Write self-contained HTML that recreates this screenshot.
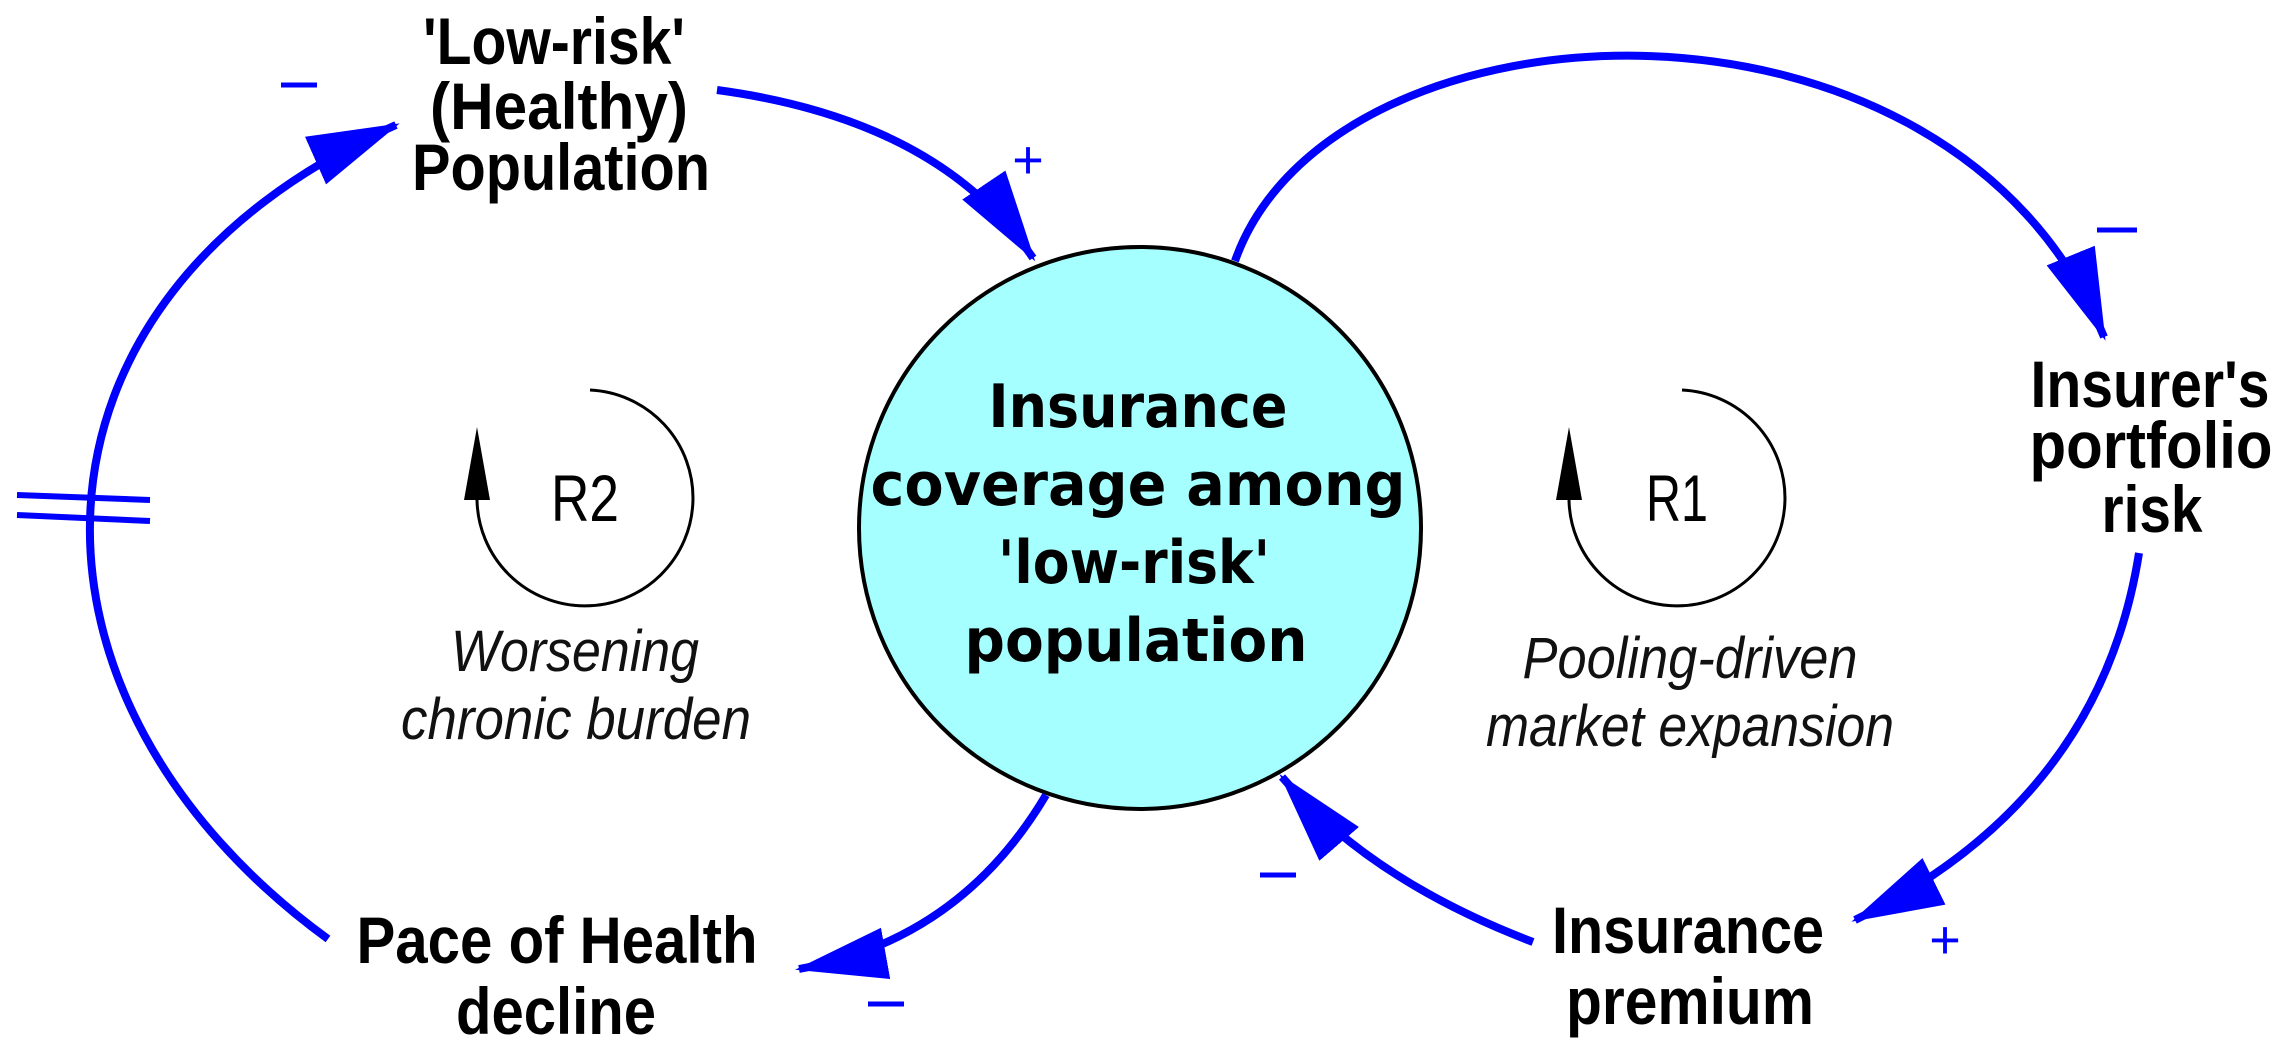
<!DOCTYPE html>
<html><head><meta charset="utf-8"><style>
html,body{margin:0;padding:0;background:#fff;}
svg{display:block;}
.lbl{font-family:"Liberation Sans Narrow","Liberation Sans",sans-serif;font-weight:bold;font-size:66px;fill:#000;text-anchor:middle;}
.ctr{font-family:"DejaVu Sans","Liberation Sans",sans-serif;font-weight:bold;font-size:60px;fill:#000;text-anchor:middle;}
.it{font-family:"Liberation Sans Narrow","Liberation Sans",sans-serif;font-style:italic;font-size:58px;fill:#111;text-anchor:middle;}
.b{fill:none;stroke:#0000ff;stroke-width:8;}
.pl{font-family:"Liberation Sans",sans-serif;font-size:54px;fill:#0000ff;text-anchor:middle;}
</style></head><body>
<svg width="2285" height="1063" viewBox="0 0 2285 1063" xmlns="http://www.w3.org/2000/svg">
<defs>
<marker id="ah" markerUnits="userSpaceOnUse" markerWidth="100" markerHeight="60" refX="88" refY="26" orient="auto">
<path d="M0,0 L92,26 L0,52 z" fill="#0000ff"/>
</marker>
</defs>
<circle cx="1140" cy="528" r="281" fill="#a6ffff" stroke="#000" stroke-width="4"/>
<text class="ctr" x="1138" y="427" textLength="299" lengthAdjust="spacingAndGlyphs">Insurance</text>
<text class="ctr" x="1138" y="505" textLength="535" lengthAdjust="spacingAndGlyphs">coverage among</text>
<text class="ctr" x="1134" y="583" textLength="272" lengthAdjust="spacingAndGlyphs">'low-risk'</text>
<text class="ctr" x="1136" y="661" textLength="343" lengthAdjust="spacingAndGlyphs">population</text>

<path class="b" d="M717,90 Q940,120 1033,258" marker-end="url(#ah)"/>
<path class="b" d="M1235,261 C1330,-10 1950,-40 2104,337" marker-end="url(#ah)"/>
<path class="b" d="M2139,553 Q2100,800 1855,920" marker-end="url(#ah)"/>
<path class="b" d="M1533,942 Q1370,880 1282,777" marker-end="url(#ah)"/>
<path class="b" d="M1046,795 Q960,940 799,969" marker-end="url(#ah)"/>
<path class="b" d="M328,939 C0,700 0,300 396,125" marker-end="url(#ah)"/>
<line x1="17" y1="495" x2="150" y2="500" stroke="#0000ff" stroke-width="6"/>
<line x1="17" y1="515" x2="150" y2="521" stroke="#0000ff" stroke-width="6"/>

<text class="lbl" x="554" y="64" textLength="262" lengthAdjust="spacingAndGlyphs">'Low-risk'</text>
<text class="lbl" x="559" y="129" textLength="258" lengthAdjust="spacingAndGlyphs">(Healthy)</text>
<text class="lbl" x="561" y="190" textLength="298" lengthAdjust="spacingAndGlyphs">Population</text>
<text class="lbl" x="2150" y="407" textLength="239" lengthAdjust="spacingAndGlyphs">Insurer's</text>
<text class="lbl" x="2151" y="468" textLength="243" lengthAdjust="spacingAndGlyphs">portfolio</text>
<text class="lbl" x="2152" y="532" textLength="101" lengthAdjust="spacingAndGlyphs">risk</text>
<text class="lbl" x="1688" y="953" textLength="272" lengthAdjust="spacingAndGlyphs">Insurance</text>
<text class="lbl" x="1690" y="1024" textLength="248" lengthAdjust="spacingAndGlyphs">premium</text>
<text class="lbl" x="557" y="963" textLength="401" lengthAdjust="spacingAndGlyphs">Pace of Health</text>
<text class="lbl" x="556" y="1034" textLength="200" lengthAdjust="spacingAndGlyphs">decline</text>

<text class="it" x="575" y="671" textLength="248" lengthAdjust="spacingAndGlyphs">Worsening</text>
<text class="it" x="576" y="739" textLength="350" lengthAdjust="spacingAndGlyphs">chronic burden</text>
<text class="it" x="1690" y="678" textLength="335" lengthAdjust="spacingAndGlyphs">Pooling-driven</text>
<text class="it" x="1690" y="746" textLength="408" lengthAdjust="spacingAndGlyphs">market expansion</text>

<path d="M590,390 A108,108 0 1 1 477,500" fill="none" stroke="#000" stroke-width="3"/>
<polygon points="477,427 464,500 490,500" fill="#000"/>
<text class="lbl" x="585" y="521" textLength="68" lengthAdjust="spacingAndGlyphs" style="font-weight:normal">R2</text>
<path d="M1682,390 A108,108 0 1 1 1569,500" fill="none" stroke="#000" stroke-width="3"/>
<polygon points="1569,427 1556,500 1582,500" fill="#000"/>
<text class="lbl" x="1677" y="521" textLength="62" lengthAdjust="spacingAndGlyphs" style="font-weight:normal">R1</text>

<line x1="281" y1="85" x2="317" y2="85" stroke="#0000ff" stroke-width="5"/>
<line x1="2097" y1="230" x2="2137" y2="230" stroke="#0000ff" stroke-width="5"/>
<line x1="1260" y1="875" x2="1296" y2="875" stroke="#0000ff" stroke-width="5"/>
<line x1="868" y1="1004" x2="904" y2="1004" stroke="#0000ff" stroke-width="5"/>
<text class="pl" x="1028" y="178">+</text>
<text class="pl" x="1945" y="958">+</text>
</svg>
</body></html>
